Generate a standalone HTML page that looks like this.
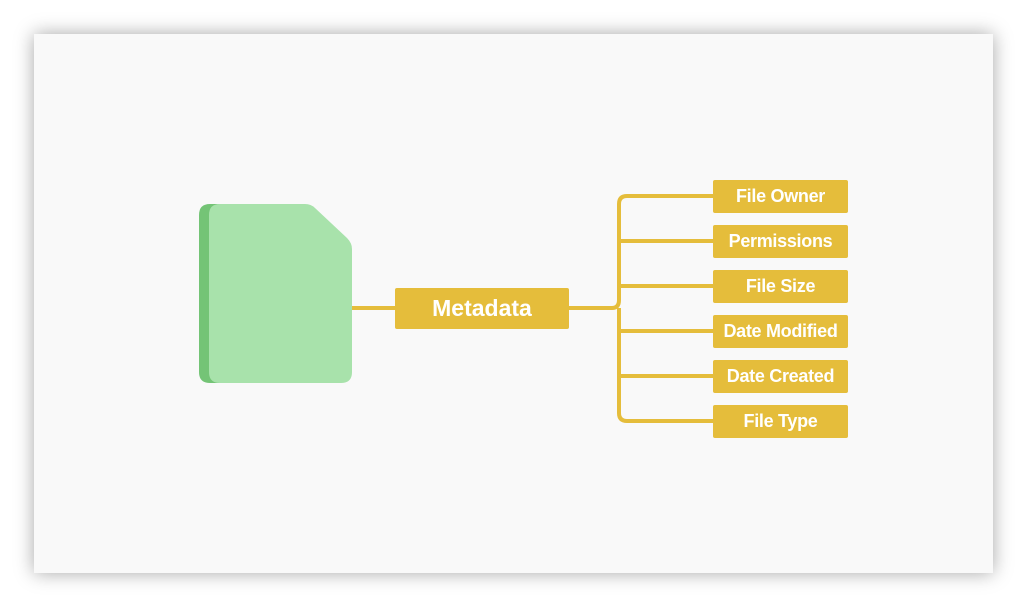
<!DOCTYPE html>
<html><head><style>
body{margin:0;width:1027px;height:608px;background:#fff;overflow:hidden;position:relative;font-family:"Liberation Sans",sans-serif}
.card{position:absolute;left:34px;top:34px;width:959px;height:539px;background:#f9f9f9;box-shadow:0 0 18px rgba(0,0,0,0.35)}
.b{position:absolute;background:#e5bd3b;color:#fff;font-weight:bold;text-align:center;border-radius:2px}
.s{left:713px;width:135px;height:33px;line-height:33px;font-size:18px;white-space:nowrap;letter-spacing:-0.3px}
</style></head><body>
<div class="card"></div>
<svg style="position:absolute;left:0;top:0" width="1027" height="608">
<path d="M210,204 H305 L340,238 V372 Q340,383 329,383 H210 Q199,383 199,372 V215 Q199,204 210,204Z" fill="#74c476"/>
<path d="M220,204 H305 Q311,204 315,208 L347,238 Q352,243 352,249 V372 Q352,383 341,383 H220 Q209,383 209,372 V215 Q209,204 220,204Z" fill="#a8e2ab"/>
<g stroke="#e5bd3b" stroke-width="4" fill="none">
<line x1="352" y1="308" x2="396" y2="308"/>
<line x1="568" y1="308" x2="612" y2="308"/>
<path d="M714,196 H627 Q619,196 619,204 V300 Q619,308 612,308 M619,308 Q619,316 619,316 V413 Q619,421 627,421 H714"/>
<path d="M619,241 H714 M619,286 H714 M619,331 H714 M619,376 H714"/>
</g>
</svg>
<div class="b" style="left:395px;top:288px;width:174px;height:41px;line-height:41px;font-size:23px">Metadata</div>
<div class="b s" style="top:180px">File Owner</div>
<div class="b s" style="top:225px">Permissions</div>
<div class="b s" style="top:270px">File Size</div>
<div class="b s" style="top:315px">Date Modified</div>
<div class="b s" style="top:360px">Date Created</div>
<div class="b s" style="top:405px">File Type</div>
</body></html>
